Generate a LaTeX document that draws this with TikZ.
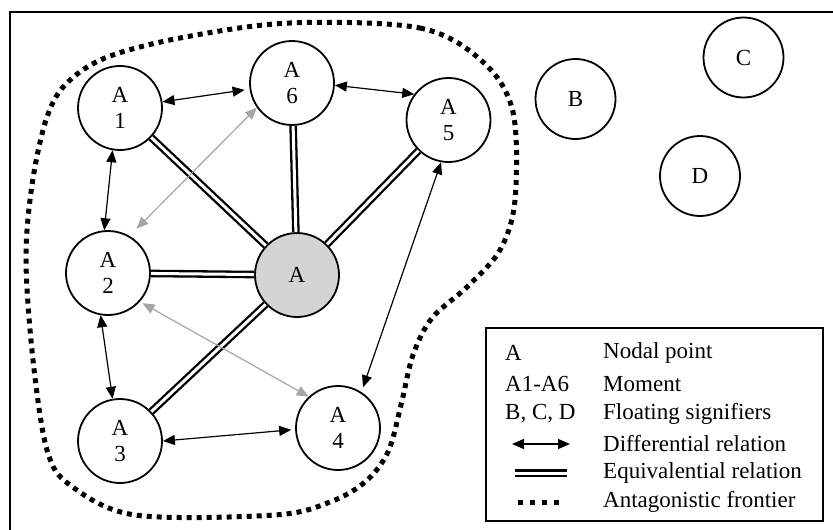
\documentclass[tikz,border=0pt]{standalone}
\usepackage{fontspec}
\setmainfont{Liberation Serif}
\usetikzlibrary{arrows.meta}
\definecolor{nodalgray}{RGB}{212,212,212}
\definecolor{lightarrow}{RGB}{165,165,165}
\begin{document}
\begin{tikzpicture}[x=1pt,y=-1pt,
  txt/.style={font=\fontsize{23}{26}\selectfont},
  moment/.style={circle,draw,line width=1.8pt,minimum size=84pt,inner sep=0pt,align=center,txt},
  floating/.style={circle,draw,line width=1.8pt,minimum size=80pt,inner sep=0pt,txt},
  diff/.style={line width=1.2pt,{Triangle[length=12pt,width=10pt]}-{Triangle[length=12pt,width=10pt]}},
  diffgray/.style={diff,draw=lightarrow,{Triangle[length=12pt,width=10pt,fill=lightarrow]}-{Triangle[length=12pt,width=10pt,fill=lightarrow]}},
  equiv/.style={double,double distance=3pt,line width=2.3pt},
  frontier/.style={line width=5pt,dash pattern=on 5pt off 5pt},
  legtext/.style={anchor=west,inner sep=0pt,font=\fontsize{23}{26}\selectfont}]
\useasboundingbox (0,0) rectangle (833,530);
% outer frame
\draw[line width=2pt] (10,530) -- (10,12) -- (833,12);
% antagonistic frontier
\draw[frontier] plot[smooth cycle,tension=0.55] coordinates {
  (290,23) (420,28) (483,62) (513,112) (515,200) (500,250) (467,287)
  (432,318) (413,355) (401,405) (388,452) (365,482) (330,502) (275,515)
  (135,515) (70,485) (47,450) (33,360) (26,260) (32,185) (46,120)
  (65,85) (105,58) (180,38)};
% nodes
\node[moment,fill=nodalgray] (A) at (297,275) {A};
\node[moment] (A1) at (120,108) {A\\1};
\node[moment] (A2) at (108,273) {A\\2};
\node[moment] (A3) at (120,441) {A\\3};
\node[moment] (A4) at (338,428) {A\\4};
\node[moment] (A5) at (448.5,120) {A\\5};
\node[moment] (A6) at (292,83) {A\\6};
\node[floating] (B) at (575.5,99) {B};
\node[floating] (C) at (743.5,57.5) {C};
\node[floating] (D) at (700,176) {D};
% equivalential relations
\draw[equiv] (A) -- (A1);
\draw[equiv] (A) -- (A6);
\draw[equiv] (A) -- (A5);
\draw[equiv] (A) -- (A2);
\draw[equiv] (A) -- (A3);
% differential relations
\draw[diff,shorten >=5pt] (A1) -- (A6);
\draw[diff] (A6.-3) -- (A5.143);
\draw[diff] (A1.-100) -- (A2.95);
\draw[diff] (A2.-100) -- (A3.100);
\draw[diff,shorten >=4pt] (A3.0) -- (A4.182);
\draw[diff,shorten <=5pt] (A4.57) -- (A5.-100);
\draw[diffgray,shorten <=10pt] (A2.60) -- (A6.215);
\draw[diffgray,shorten <=3pt] (A2.-42) -- (A4.133);
% legend
\node[draw,line width=2pt,minimum width=337pt,minimum height=193pt,inner sep=0pt,anchor=north west] (leg) at (485,327) {};
\node[legtext] (l1a) at (505,353) {A};
\node[legtext] (l1b) at (603,353) {Nodal point};
\node[legtext] (l2a) at (505,384) {A1-A6};
\node[legtext] (l2b) at (603,384) {Moment};
\node[legtext] (l3a) at (505,414) {B, C, D};
\node[legtext] (l3b) at (603,414) {Floating signifiers};
\node[legtext] (l4b) at (603,444) {Differential relation};
\node[legtext] (l5b) at (603,473) {Equivalential relation};
\node[legtext] (l6b) at (603,502) {Antagonistic frontier};
\coordinate (d1) at (512,444);
\coordinate (d2) at (570,444);
\coordinate (e1) at (515,473);
\coordinate (e2) at (567,473);
\coordinate (f1) at (518,502);
\coordinate (f2) at (565,502);
\draw[diff] (d1) -- (d2);
\draw[equiv] (e1) -- (e2);
\draw[line width=5pt,dash pattern=on 5pt off 7pt] (f1) -- (f2);
\end{tikzpicture}
\end{document}
